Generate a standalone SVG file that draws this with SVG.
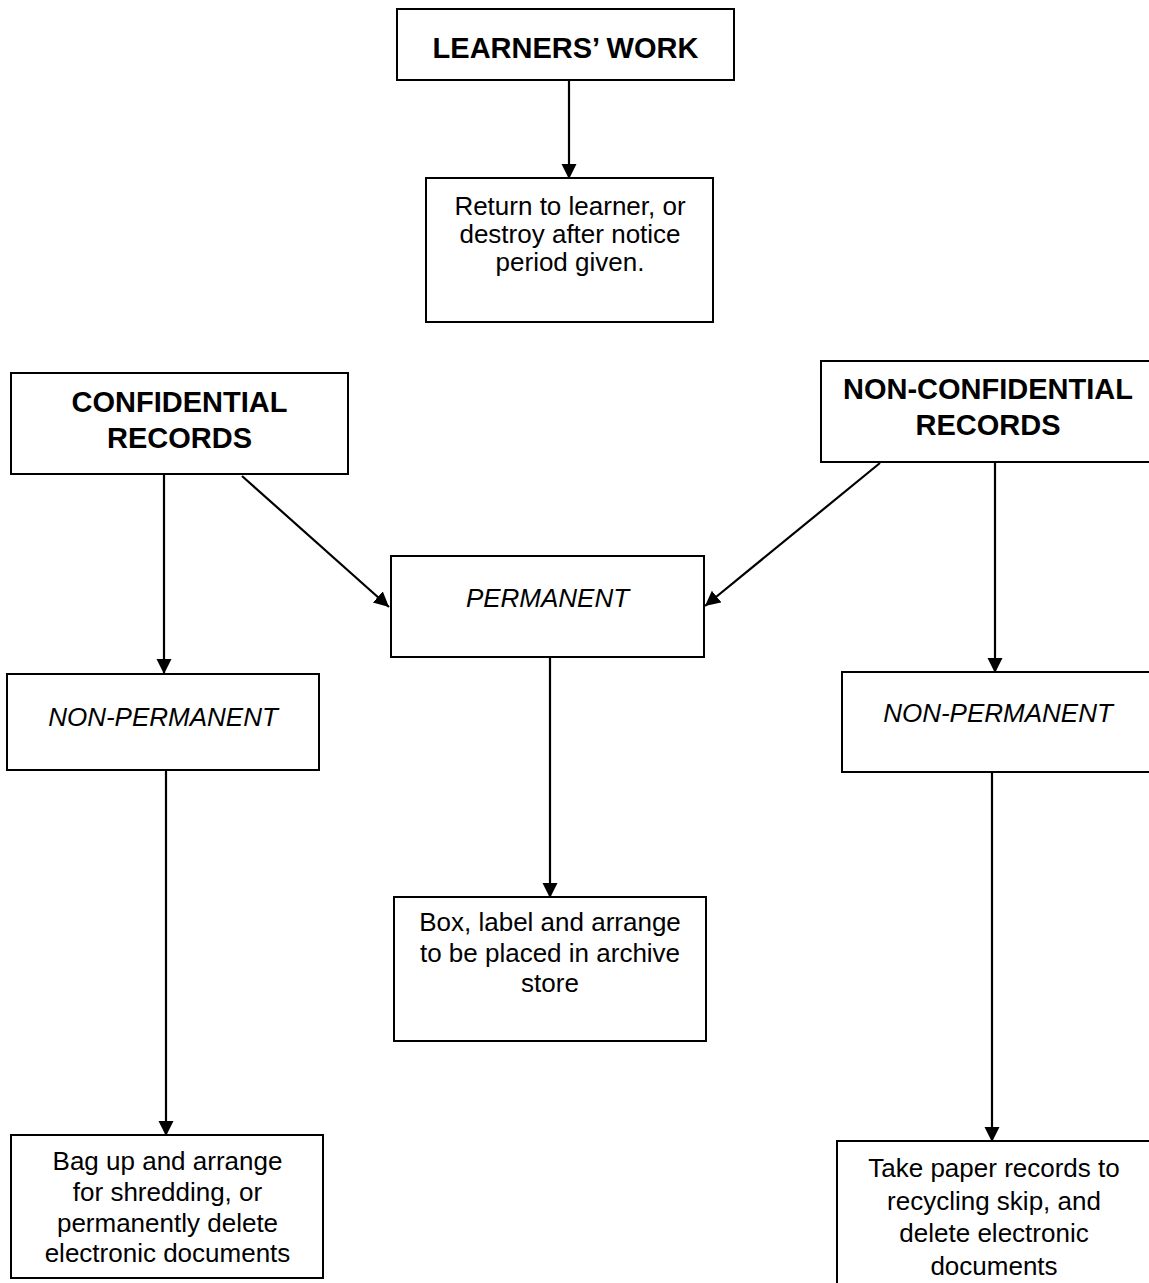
<svg xmlns="http://www.w3.org/2000/svg" width="1149" height="1283" viewBox="0 0 1149 1283">
<style>
.box{fill:#fff;stroke:#000;stroke-width:2}
.t{font-family:"Liberation Sans",Arial,sans-serif;font-size:26px;fill:#000;text-anchor:middle}
.b{font-weight:bold;font-size:29px}
.i{font-style:italic}
.c{stroke:#000;stroke-width:2.2;fill:none;marker-end:url(#ah)}
</style>
<defs>
<marker id="ah" markerUnits="userSpaceOnUse" markerWidth="16" markerHeight="16" refX="15" refY="7.5" orient="auto">
<path d="M0,0 L15,7.5 L0,15 z" fill="#000"/>
</marker>
</defs>
<rect width="1149" height="1283" fill="#fff"/>
<g id="connectors">
<line class="c" x1="569" y1="80" x2="569" y2="179"/>
<line class="c" x1="164" y1="474" x2="164" y2="674"/>
<line class="c" x1="242" y1="476" x2="389" y2="607"/>
<line class="c" x1="880" y1="463" x2="705" y2="606"/>
<line class="c" x1="995" y1="462" x2="995" y2="673"/>
<line class="c" x1="550" y1="657" x2="550" y2="898"/>
<line class="c" x1="166" y1="770" x2="166" y2="1136"/>
<line class="c" x1="992" y1="772" x2="992" y2="1142"/>
</g>
<g id="learners-work">
<rect class="box" x="397" y="9" width="337" height="71"/>
<text class="t b" x="565.5" y="58">LEARNERS’ WORK</text>
</g>
<g id="return-to-learner">
<rect class="box" x="426" y="178" width="287" height="144"/>
<text class="t" x="570" y="215">Return to learner, or<tspan x="570" y="243">destroy after notice</tspan><tspan x="570" y="271">period given.</tspan></text>
</g>
<g id="confidential-records">
<rect class="box" x="11" y="373" width="337" height="101"/>
<text class="t b" x="179.5" y="412">CONFIDENTIAL<tspan x="179.5" y="448">RECORDS</tspan></text>
</g>
<g id="non-confidential-records">
<rect class="box" x="821" y="361" width="340" height="101"/>
<text class="t b" x="988" y="399">NON-CONFIDENTIAL<tspan x="988" y="435">RECORDS</tspan></text>
</g>
<g id="permanent">
<rect class="box" x="391" y="556" width="313" height="101"/>
<text class="t i" x="547.5" y="607">PERMANENT</text>
</g>
<g id="non-permanent-left">
<rect class="box" x="7" y="674" width="312" height="96"/>
<text class="t i" x="163" y="726">NON-PERMANENT</text>
</g>
<g id="non-permanent-right">
<rect class="box" x="842" y="672" width="320" height="100"/>
<text class="t i" x="998" y="722">NON-PERMANENT</text>
</g>
<g id="archive-store">
<rect class="box" x="394" y="897" width="312" height="144"/>
<text class="t" x="550" y="931">Box, label and arrange<tspan x="550" y="962">to be placed in archive</tspan><tspan x="550" y="992">store</tspan></text>
</g>
<g id="shredding">
<rect class="box" x="11" y="1135" width="312" height="143"/>
<text class="t" x="167.5" y="1170">Bag up and arrange<tspan x="167.5" y="1201">for shredding, or</tspan><tspan x="167.5" y="1232">permanently delete</tspan><tspan x="167.5" y="1262">electronic documents</tspan></text>
</g>
<g id="recycling">
<rect class="box" x="837" y="1141" width="325" height="150"/>
<text class="t" x="994" y="1177">Take paper records to<tspan x="994" y="1210">recycling skip, and</tspan><tspan x="994" y="1242">delete electronic</tspan><tspan x="994" y="1275">documents</tspan></text>
</g>
</svg>
